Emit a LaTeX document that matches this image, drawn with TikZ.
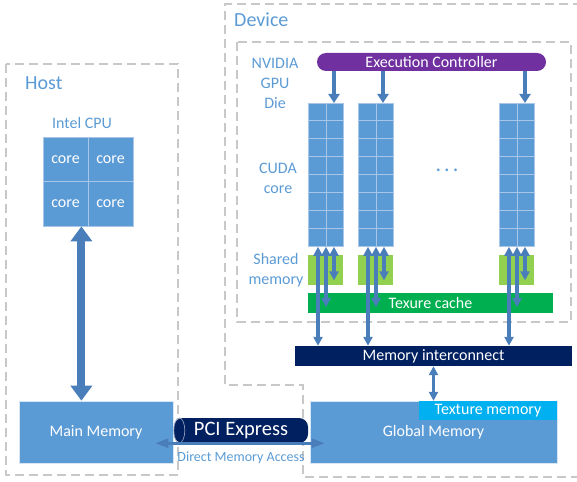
\documentclass[tikz,border=0pt]{standalone}
\usepackage{fontspec}
\setmainfont{Carlito}
\usetikzlibrary{arrows.meta}
\definecolor{boxblue}{HTML}{5B9BD5}
\definecolor{arrblue}{HTML}{4A7EBB}
\definecolor{dashgray}{HTML}{C8C8C8}
\definecolor{labblue}{HTML}{5B9BD5}
\definecolor{navy}{HTML}{002060}
\definecolor{purp}{HTML}{7030A0}
\definecolor{tgreen}{HTML}{00B050}
\definecolor{lgreen}{HTML}{92D050}
\definecolor{tmem}{HTML}{00B0F0}
\definecolor{gridline}{HTML}{A9C6E6}
\begin{document}
\begin{tikzpicture}[x=1pt,y=-1pt,
  dashbox/.style={draw=dashgray,line width=1.8pt,dash pattern=on 9pt off 5pt},
  lab/.style={text=labblue,font=\fontsize{16}{20}\selectfont,align=center,inner sep=0pt},
  titlelab/.style={text=labblue,font=\fontsize{20}{24}\selectfont,anchor=west,inner sep=0pt},
  fbox/.style={inner sep=0pt,text=white,font=\fontsize{16}{20}\selectfont},
  cell/.style={fill=boxblue,draw=gridline,line width=0.8pt,minimum width=45pt,minimum height=44.5pt,inner sep=0pt,text=white,font=\fontsize{16}{20}\selectfont},
  colbox/.style={fill=boxblue,draw=gridline,line width=0.8pt,minimum width=35pt,minimum height=143pt,inner sep=0pt,anchor=north west},
  smem/.style={fill=lgreen,minimum width=35pt,minimum height=30pt,inner sep=0pt,anchor=north west},
  gridl/.style={draw=gridline,line width=0.8pt},
  marr/.style={draw=arrblue,line width=3.2pt,{Triangle[width=9pt,length=9pt]}-{Triangle[width=9pt,length=9pt]}},
  ecarr/.style={draw=arrblue,line width=4pt,-{Triangle[width=11pt,length=9pt]}},
  bigarr/.style={draw=arrblue,line width=8pt,{Triangle[width=21pt,length=15pt]}-{Triangle[width=21pt,length=15pt]}},
  dmaarr/.style={draw=arrblue,line width=2.6pt,{Triangle[width=9pt,length=13pt]}-{Triangle[width=9pt,length=13pt]}}
]
\useasboundingbox (0,0) rectangle (577,481);

% dashed frames
\draw[dashbox] (6,64) rectangle (178,475);
\draw[dashbox] (582,4) -- (225,4) -- (225,385) -- (303,385) -- (303,477) -- (582,477);
\draw[dashbox] (237,42) rectangle (571,322);

% titles and labels
\node[titlelab] (host) at (25,83) {Host};
\node[titlelab] (dev) at (234,20) {Device};
\node[lab] (cpul) at (82,123) {Intel CPU};
\node[lab] (die) at (275,83) {NVIDIA\\GPU\\Die};
\node[lab] (cudal) at (278,178) {CUDA\\core};
\node[lab] (sml) at (276,270) {Shared\\memory};
\node[lab,font=\fontsize{22}{24}\selectfont] (dots) at (447,170) {.\hspace{3pt}.\hspace{3pt}.};

% CPU
\node[cell] (c11) at (65.5,159.25) {core};
\node[cell] (c12) at (110.5,159.25) {core};
\node[cell] (c21) at (65.5,203.75) {core};
\node[cell] (c22) at (110.5,203.75) {core};

% boxes
\node[fbox,fill=boxblue,draw=white!75!boxblue,line width=0.6pt,minimum width=154pt,minimum height=62pt] (mm) at (96,432) {Main Memory};
\node[fbox,fill=boxblue,draw=white!75!boxblue,line width=0.6pt,minimum width=247pt,minimum height=62pt] (gm) at (433.5,432) {Global Memory};
\node[fbox,fill=tmem,minimum width=138pt,minimum height=19pt] (tm) at (488,410.5) {Texture memory};
\node[fbox,fill=navy,minimum width=277pt,minimum height=20pt] (mi) at (433.5,356) {Memory interconnect};
\node[fbox,fill=tgreen,minimum width=245pt,minimum height=20pt] (tc) at (430.5,303) {Texure cache};
\node[fbox,fill=purp,rounded corners=9pt,minimum width=229pt,minimum height=18pt] (ec) at (431.5,62) {Execution Controller};

% PCI Express
\node[fbox,fill=navy,rounded corners=9pt,minimum width=134pt,minimum height=25pt,font=\fontsize{20.5}{24}\selectfont] (pci) at (241,430.5) {PCI Express};
\draw[draw=white!55!navy,line width=0.7pt] ([xshift=5.5pt]pci.west) ellipse [x radius=5.5pt, y radius=12.5pt];
\node[lab,font=\fontsize{14}{16}\selectfont] (dma) at (241,458) {Direct Memory Access};
\draw[dmaarr] ([xshift=-18pt]mm.east |- pci.south) -- ([xshift=15pt]gm.west |- pci.south);

% GPU columns
\foreach \n/\x in {1/308,2/358,3/499}{
  \node[colbox] (col\n) at (\x,103) {};
  \foreach \r in {1,...,7}{
    \draw[gridl] ([yshift=-\r*17.875pt]col\n.north west) -- ([yshift=-\r*17.875pt]col\n.north east);
  }
  \draw[gridl] (col\n.north) -- (col\n.south);
  \node[smem] (sm\n) at (\x,255) {};
}

% controller arrows
\draw[ecarr] ([xshift=26pt]col1.north west |- ec.south) -- ([xshift=26pt]col1.north west);
\draw[ecarr] ([xshift=25pt]col2.north west |- ec.south) -- ([xshift=25pt]col2.north west);
\draw[ecarr] ([xshift=26pt]col3.north west |- ec.south) -- ([xshift=26pt]col3.north west);

% memory arrows
\foreach \n in {1,2,3}{
  \draw[marr] ([xshift=10pt]col\n.south west) -- ([xshift=10pt]col\n.south west |- mi.north);
  \draw[marr,shorten >=6pt] ([xshift=18pt]col\n.south west) -- ([xshift=18pt]col\n.south west |- tc.south);
  \draw[marr,shorten >=5pt] ([xshift=26pt]col\n.south west) -- ([xshift=26pt]col\n.south west |- sm\n.south);
}
\draw[marr] (mi.south) -- (mi.south |- tm.north);

% CPU <-> main memory
\draw[bigarr] ([xshift=-7pt]c21.south east) -- ([xshift=-7pt]c21.south east |- mm.north);
\end{tikzpicture}
\end{document}
